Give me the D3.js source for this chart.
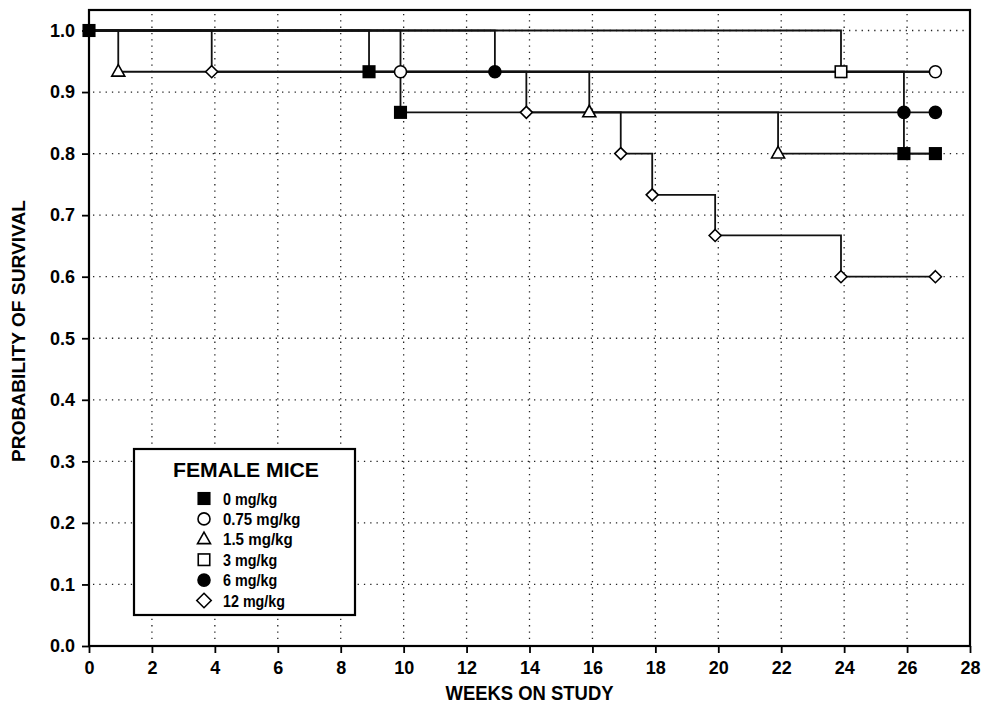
<!DOCTYPE html>
<html>
<head>
<meta charset="utf-8">
<script src="https://cdn.jsdelivr.net/npm/d3@7"></script>
<style>
  html, body { margin: 0; padding: 0; background: #fff; }
  svg { display: block; font-family: "Liberation Sans", Arial, Helvetica, sans-serif; font-weight: bold; }
</style>
</head>
<body>
<svg id="chart" width="984" height="705"></svg>
<script>
// ---------------- DATA ----------------
const xTicks = [0, 2, 4, 6, 8, 10, 12, 14, 16, 18, 20, 22, 24, 26, 28];
const yTicks = [0.0, 0.1, 0.2, 0.3, 0.4, 0.5, 0.6, 0.7, 0.8, 0.9, 1.0];

const legendTitle = "FEMALE MICE";
const doseLabels = ["0 mg/kg", "0.75 mg/kg", "1.5 mg/kg", "3 mg/kg", "6 mg/kg", "12 mg/kg"];

// Kaplan-Meier steps: week of each point, survival after that point
const weeks0   = [0, 8.9, 9.9, 25.9, 26.9];
const surv0    = [1.0, 0.933, 0.867, 0.8, 0.8];
const weeks075 = [0, 9.9, 26.9];
const surv075  = [1.0, 0.933, 0.933];
const weeks15  = [0, 0.93, 15.9, 21.9, 26.9];
const surv15   = [1.0, 0.933, 0.867, 0.8, 0.8];
const weeks3   = [0, 23.9, 26.9];
const surv3    = [1.0, 0.933, 0.933];
const weeks6   = [0, 12.9, 25.9, 26.9];
const surv6    = [1.0, 0.933, 0.867, 0.867];
const weeks12  = [0, 3.9, 13.9, 16.9, 17.9, 19.9, 23.9, 26.9];
const surv12   = [1.0, 0.933, 0.867, 0.8, 0.733, 0.667, 0.6, 0.6];

// which points carry a visible marker
const marks0   = [true, true, true, true, true];
const marks075 = [false, true, true];
const marks15  = [false, true, true, true, false];
const marks3   = [false, true, false];
const marks6   = [false, true, true, true];
const marks12  = [false, true, true, true, true, true, true, true];

// ---------------- BUILD ----------------
const series = [
  { label: doseLabels[0], sym: "fsquare",  weeks: weeks0,   surv: surv0,   marks: marks0 },
  { label: doseLabels[1], sym: "ocircle",  weeks: weeks075, surv: surv075, marks: marks075 },
  { label: doseLabels[2], sym: "otri",     weeks: weeks15,  surv: surv15,  marks: marks15 },
  { label: doseLabels[3], sym: "osquare",  weeks: weeks3,   surv: surv3,   marks: marks3 },
  { label: doseLabels[4], sym: "fcircle",  weeks: weeks6,   surv: surv6,   marks: marks6 },
  { label: doseLabels[5], sym: "odiamond", weeks: weeks12,  surv: surv12,  marks: marks12 }
];

const svg = d3.select("#chart");
const pLeft = 89, pRight = 970, pTop = 10, pBottom = 646;
const x = d3.scaleLinear().domain([0, 28]).range([pLeft, pRight]);
const y = d3.scaleLinear().domain([0, 1]).range([pBottom, 30.5]);

// grid
const grid = svg.append("g").attr("stroke", "#222").attr("stroke-width", 1.3)
  .attr("stroke-dasharray", "1.3,5");
grid.selectAll("line.v").data(xTicks.filter(d => d > 0 && d < 28)).enter().append("line")
  .attr("x1", d => x(d)).attr("x2", d => x(d)).attr("y1", pTop + 4).attr("y2", pBottom - 3);
grid.selectAll("line.h").data(yTicks.filter(d => d > 0)).enter().append("line")
  .attr("x1", pLeft + 4).attr("x2", pRight - 3).attr("y1", d => y(d)).attr("y2", d => y(d));

// axes
const xAxis = d3.axisBottom(x).tickValues(xTicks).tickSize(7).tickPadding(8).tickFormat(d3.format("d"));
const yAxis = d3.axisLeft(y).tickValues(yTicks).tickSize(7).tickPadding(7).tickFormat(d3.format(".1f"));
const gx = svg.append("g").attr("transform", `translate(0,${pBottom})`).call(xAxis);
const gy = svg.append("g").attr("transform", `translate(${pLeft},0)`).call(yAxis);
[gx, gy].forEach(g => {
  g.select(".domain").remove();
  g.selectAll(".tick line").attr("stroke", "#000").attr("stroke-width", 1.8);
  g.selectAll(".tick text").attr("fill", "#000").style("font-size", "18px")
    .style("font-family", '"Liberation Sans", Arial, sans-serif').style("font-weight", "bold");
});

// frame
svg.append("rect").attr("x", pLeft).attr("y", pTop).attr("width", pRight - pLeft).attr("height", pBottom - pTop)
  .attr("fill", "none").attr("stroke", "#000").attr("stroke-width", 2.2);

// axis titles
svg.append("text").attr("x", (pLeft + pRight) / 2).attr("y", 700).attr("text-anchor", "middle")
  .style("font-size", "19.5px").attr("textLength", 168).attr("lengthAdjust", "spacingAndGlyphs")
  .text("WEEKS ON STUDY");
svg.append("text").attr("transform", "translate(25,331) rotate(-90)").attr("text-anchor", "middle")
  .style("font-size", "18px").attr("textLength", 262).attr("lengthAdjust", "spacingAndGlyphs")
  .text("PROBABILITY OF SURVIVAL");

// step lines
const stepLine = d3.line().x(d => x(d[0])).y(d => y(d[1])).curve(d3.curveStepAfter);
const lineG = svg.append("g");
series.forEach(s => {
  const pts = s.weeks.map((w, i) => [w, s.surv[i]]);
  lineG.append("path").attr("d", stepLine(pts)).attr("fill", "none")
    .attr("stroke", "#111").attr("stroke-width", 1.8);
});

// marker drawing
function drawSymbol(g, sym, cx, cy, scale) {
  const k = scale || 1;
  if (sym === "fsquare" || sym === "osquare") {
    const s = 11.5 * k;
    g.append("rect").attr("x", cx - s / 2).attr("y", cy - s / 2).attr("width", s).attr("height", s)
      .attr("fill", sym === "fsquare" ? "#000" : "#fff").attr("stroke", "#000").attr("stroke-width", 1.6);
  } else if (sym === "fcircle" || sym === "ocircle") {
    g.append("circle").attr("cx", cx).attr("cy", cy).attr("r", 6 * k)
      .attr("fill", sym === "fcircle" ? "#000" : "#fff").attr("stroke", "#000").attr("stroke-width", 1.6);
  } else if (sym === "otri") {
    const w = 13 * k, h = 11.5 * k;
    g.append("path").attr("d", `M${cx},${cy - h * 0.62}L${cx + w / 2},${cy + h * 0.38}L${cx - w / 2},${cy + h * 0.38}Z`)
      .attr("fill", "#fff").attr("stroke", "#000").attr("stroke-width", 1.6);
  } else if (sym === "odiamond") {
    const r = 6 * k;
    g.append("path").attr("d", `M${cx},${cy - r}L${cx + r},${cy}L${cx},${cy + r}L${cx - r},${cy}Z`)
      .attr("fill", "#fff").attr("stroke", "#000").attr("stroke-width", 1.6);
  }
}

const markG = svg.append("g");
const drawOrder = [5, 3, 2, 1, 4, 0];
drawOrder.forEach(idx => {
  const s = series[idx];
  s.weeks.forEach((w, i) => {
    if (s.marks[i]) drawSymbol(markG, s.sym, x(w), y(s.surv[i]), 1);
  });
});

// legend
const lg = svg.append("g");
lg.append("rect").attr("x", 134).attr("y", 449).attr("width", 221).attr("height", 166)
  .attr("fill", "#fff").attr("stroke", "#000").attr("stroke-width", 2.2);
lg.append("text").attr("x", 246).attr("y", 477).attr("text-anchor", "middle")
  .style("font-size", "20.5px").attr("textLength", 146).attr("lengthAdjust", "spacingAndGlyphs").text(legendTitle);
const rowY = d3.scaleLinear().domain([0, 5]).range([498.5, 600.5]);
series.forEach((s, i) => {
  drawSymbol(lg, s.sym, 204, rowY(i), s.sym === "odiamond" ? 1.2 : 1.0);
  lg.append("text").attr("x", 223).attr("y", rowY(i)).attr("dy", "0.37em")
    .style("font-size", "16.5px").attr("textLength", s.label.length * 7.75)
    .attr("lengthAdjust", "spacingAndGlyphs").text(s.label);
});
</script>
</body>
</html>
